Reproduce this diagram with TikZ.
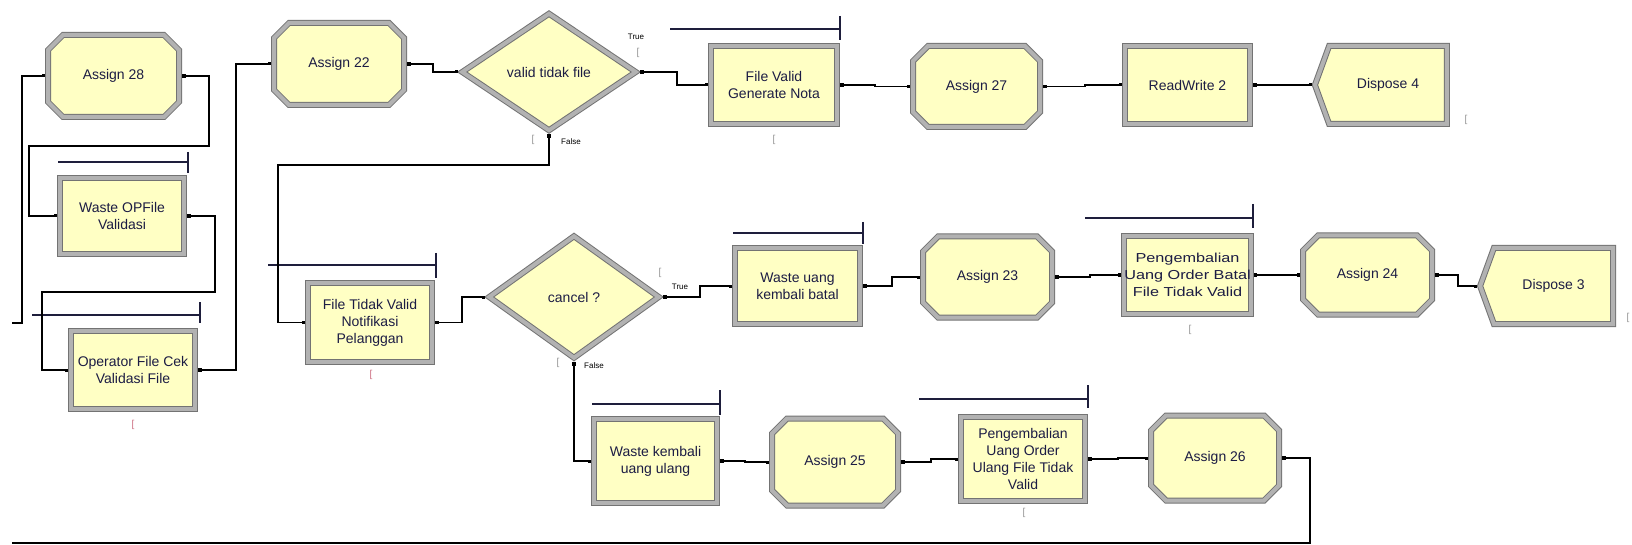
\documentclass[tikz,border=0pt]{standalone}
\usepackage{fontspec}
\setmainfont{Liberation Sans}
\newfontfamily\widefont[FakeStretch=1.25]{Liberation Sans}
\usetikzlibrary{shapes.geometric,shapes.symbols,arrows.meta,calc}
\pgfdeclarelayer{bg}
\pgfsetlayers{bg,main}
\definecolor{boxfill}{RGB}{255,255,196}
\definecolor{bevlight}{RGB}{178,178,178}
\definecolor{bevdark}{RGB}{115,115,115}
\definecolor{txt}{RGB}{28,28,68}
\definecolor{queue}{RGB}{30,30,60}
\definecolor{cnt}{RGB}{150,150,150}
\definecolor{cntred}{RGB}{205,110,130}
\tikzset{
  bevel/.style={draw=bevdark, line width=1pt, double=bevlight, double distance=4pt, fill=boxfill},
  lbl/.style={font=\fontsize{14}{17}\selectfont, text=txt, align=center, inner sep=0pt},
  procbox/.style={rectangle, bevel, lbl, outer sep=3pt},
  asgtxt/.style={rectangle, lbl, outer sep=3pt},
  decide/.style={diamond, bevel, lbl, outer sep=3pt},
  disp/.style={signal, signal to=west, signal from=nowhere, signal pointer angle=140, bevel, lbl, outer sep=3pt},
  conn/.style={draw=black, line width=1.2pt, {Square[length=3.5pt,width=3.5pt]}-{Square[length=3pt,width=3pt]}},
  connin/.style={draw=black, line width=1.2pt, -{Square[length=3pt,width=3pt]}},
  connout/.style={draw=black, line width=1.2pt, {Square[length=3.5pt,width=3.5pt]}-},
  qline/.style={draw=queue, line width=1.3pt},
  cntmark/.style={font=\fontsize{10}{10}\selectfont, text=cnt, inner sep=0pt},
  cntredmark/.style={font=\fontsize{10}{10}\selectfont, text=cntred, inner sep=0pt},
  branch/.style={font=\fontsize{8}{8}\selectfont, text=black, inner sep=0pt},
}
\newcommand\procnode[6]{\node[procbox, minimum width=#4pt-6pt, minimum height=#5pt-6pt] (#1) at (#2,#3) {#6};}
\newcommand\asgnode[6]{%
 \node[asgtxt, minimum width=#4pt-6pt, minimum height=#5pt-6pt] (#1) at (#2,#3) {#6};
 \begin{pgfonlayer}{bg}
 \draw[bevel] ([shift={(18pt,-3pt)}]#1.north west) -- ([shift={(-18pt,-3pt)}]#1.north east) -- ([shift={(-3pt,-18pt)}]#1.north east) -- ([shift={(-3pt,18pt)}]#1.south east) -- ([shift={(-18pt,3pt)}]#1.south east) -- ([shift={(18pt,3pt)}]#1.south west) -- ([shift={(3pt,18pt)}]#1.south west) -- ([shift={(3pt,-18pt)}]#1.north west) -- cycle;
 \end{pgfonlayer}}
\begin{document}
\begin{tikzpicture}[x=1pt,y=-1pt]
\begin{pgfonlayer}{bg}
\fill[white] (0,0) rectangle (1632,545);
\end{pgfonlayer}
\useasboundingbox (0,0) rectangle (1632,545);

% ---- top row
\asgnode{a28}{113.5}{76}{137}{88}{Assign 28}
\asgnode{a22}{339}{64}{136}{88}{Assign 22}
\node[decide, minimum width=176pt, minimum height=119pt] (d1) at (549,72) {valid tidak file};
\procnode{fv}{774}{85}{132}{84}{File Valid\\Generate Nota}
\asgnode{a27}{976.5}{86.5}{133}{87}{Assign 27}
\procnode{rw}{1187.5}{85}{131}{84}{ReadWrite 2}
\node[disp, minimum width=132pt, minimum height=78pt] (d4) at (1388,85) {Dispose 4};

% ---- left column
\procnode{wop}{122}{216}{130}{82}{Waste OPFile\\Validasi}
\procnode{op}{133}{370}{130}{84}{Operator File Cek\\Validasi File}

% ---- middle row
\procnode{ftv}{370}{322.5}{130}{85}{File Tidak Valid\\Notifikasi\\Pelanggan}
\node[decide, minimum width=172pt, minimum height=124pt] (d2) at (574,297) {cancel ?};
\procnode{wu}{797.5}{286}{131}{82}{Waste uang\\kembali batal}
\asgnode{a23}{987.5}{277}{135}{87}{Assign 23}
\procnode{pb}{1187.5}{275}{131}{84}{\widefont\fontsize{13}{13}\selectfont Pengembalian\\\widefont\fontsize{13}{13}\selectfont Uang Order Batal\\\widefont\fontsize{13}{13}\selectfont File Tidak Valid}
\asgnode{a24}{1367.5}{275}{135}{85}{Assign 24}
\node[disp, minimum width=133pt, minimum height=76pt] (d3) at (1553.5,286) {Dispose 3};

% ---- bottom row
\procnode{wk}{655.5}{461}{129}{90}{Waste kembali\\uang ulang}
\asgnode{a25}{835}{462}{132}{93}{Assign 25}
\procnode{pu}{1023}{459}{130}{90}{Pengembalian\\Uang Order\\Ulang File Tidak\\Valid}
\asgnode{a26}{1215}{458}{134}{91}{Assign 26}

% ---- queue lines
\draw[qline] (58,162) -- (188,162) (188,152) -- (188,173);
\draw[qline] (32,315) -- (200,315) (200,302) -- (200,323);
\draw[qline] (268,265) -- (436,265) (436,253) -- (436,278);
\draw[qline] (670,29) -- (840,29) (840,16) -- (840,40);
\draw[qline] (733,233) -- (863,233) (863,222) -- (863,244);
\draw[qline] (1085,218) -- (1253,218) (1253,204) -- (1253,228);
\draw[qline] (592,404) -- (720,404) (720,390) -- (720,415);
\draw[qline] (919,399) -- (1088,399) (1088,385) -- (1088,408);

% ---- counters and branch labels
\node[cntredmark] (c1) at (133,425) {[};
\node[cntredmark] (c2) at (371,375) {[};
\node[cntmark] (c3) at (774,140) {[};
\node[cntmark] (c4) at (638,53) {[};
\node[cntmark] (c5) at (533,140) {[};
\node[cntmark] (c6) at (1466,120) {[};
\node[cntmark] (c7) at (660,273) {[};
\node[cntmark] (c8) at (558,363) {[};
\node[cntmark] (c9) at (1190,330) {[};
\node[cntmark] (c10) at (1024,513) {[};
\node[cntmark] (c11) at (1628,318) {[};
\node[branch] (t1) at (636,37) {True};
\node[branch] (f1) at (571,142) {False};
\node[branch] (t2) at (680,287) {True};
\node[branch] (f2) at (594,366) {False};

% ---- connectors
\coordinate (inL) at (12,323);
\coordinate (outL) at (12,543);
\draw[connin] (inL) -| (22,200) |- (a28.west);
\draw[conn] (a28.east) -| (209,146) -| (29,190) |- (wop.west);
\draw[conn] (wop.east) -| (215,292) -| (42,330) |- (op.west);
\draw[conn] (op.east) -| (236,200) |- (a22.west);
\draw[conn] (a22.east) -| (433,70) |- (d1.west);
\draw[conn] (d1.east) -| (677,80) |- (fv.west);
\draw[conn] (d1.south) |- (278,165) |- (ftv.west);
\draw[conn] (fv.east) -| (875,87) |- (a27.west);
\draw[conn] (a27.east) -| (1085,86) |- (rw.west);
\draw[conn] (rw.east) -- (d4.west);
\draw[conn] (ftv.east) -| (462,310) |- (d2.west);
\draw[conn] (d2.east) -| (700,290) |- (wu.west);
\draw[conn] (wu.east) -| (892,280) |- (a23.west);
\draw[conn] (a23.east) -| (1090,276) |- (pb.west);
\draw[conn] (pb.east) -- (a24.west);
\draw[conn] (a24.east) -| (1458,280) |- (d3.west);
\draw[conn] (d2.south) |- (wk.west);
\draw[conn] (wk.east) -| (745,462) |- (a25.west);
\draw[conn] (a25.east) -| (931,460) |- (pu.west);
\draw[conn] (pu.east) -| (1118,458) |- (a26.west);
\draw[connout] (a26.east) -| (1310,543) -- (outL);
\end{tikzpicture}
\end{document}
